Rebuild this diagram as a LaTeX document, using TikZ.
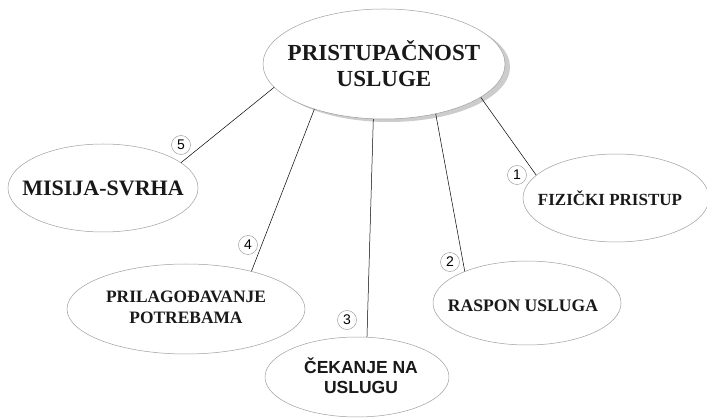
\documentclass[tikz,border=0pt]{standalone}
\usepackage{fontspec}
\setmainfont{Liberation Serif}
\newfontfamily\arialf{Liberation Sans}
\usetikzlibrary{shapes.geometric}
\begin{document}
\begin{tikzpicture}[x=1pt,y=-1pt,
  bub/.style={ellipse,draw=gray!75,line width=0.5pt,fill=white,inner sep=0pt},
  lab/.style={align=center,text=black!90,inner sep=0pt},
  num/.style={circle,draw=gray!85,line width=0.45pt,inner sep=0pt,minimum size=19pt,font=\arialf\fontsize{14}{14}\selectfont},
  link/.style={line width=0.5pt,black}]
\useasboundingbox[fill=white] (0,0) rectangle (707,419);
% shadow of the central ellipse
\fill[gray!40] (389,67) ellipse [x radius=121pt, y radius=55pt];
\node[bub,minimum width=242pt,minimum height=110pt,
  label={[lab,font=\bfseries\fontsize{23}{26}\selectfont]center:PRISTUPAČNOST\\USLUGE}] (C) at (384,64) {};
\node[bub,minimum width=190pt,minimum height=88pt,
  label={[lab,font=\bfseries\fontsize{22}{24}\selectfont]center:MISIJA-SVRHA}] (M) at (103,188) {};
\node[bub,minimum width=186pt,minimum height=88pt,
  label={[lab,font=\bfseries\fontsize{17}{20}\selectfont,xshift=-6pt]center:FIZIČKI PRISTUP}] (F) at (616,198) {};
\node[bub,minimum width=238pt,minimum height=90pt,
  label={[lab,font=\bfseries\fontsize{17.4}{21}\selectfont,yshift=2pt]center:PRILAGOĐAVANJE\\POTREBAMA}] (P) at (186,309) {};
\node[bub,minimum width=184pt,minimum height=80pt,
  label={[lab,font=\arialf\bfseries\fontsize{17.5}{20}\selectfont,xshift=4pt,yshift=1pt]center:ČEKANJE NA\\USLUGU}] (K) at (357,377) {};
\node[bub,minimum width=188pt,minimum height=84pt,
  label={[lab,font=\bfseries\fontsize{17.6}{20}\selectfont,xshift=-4pt,yshift=-3pt]center:RASPON USLUGA}] (R) at (527,303) {};
% connectors
\draw[link] (C.192) -- (M.18.6);
\draw[link] (C.213) -- (P.30.6);
\draw[link] (C.259.5) -- (K.76);
\draw[link] (C.316) -- (R.153);
\draw[link] (C.341.7) -- (F.164.4);
% numbers
\node[num] (n5) at (181,145) {5};
\node[num] (n4) at (248,245) {4};
\node[num] (n3) at (347,320) {3};
\node[num] (n2) at (450,262) {2};
\node[num] (n1) at (517,175) {1};
\end{tikzpicture}
\end{document}
